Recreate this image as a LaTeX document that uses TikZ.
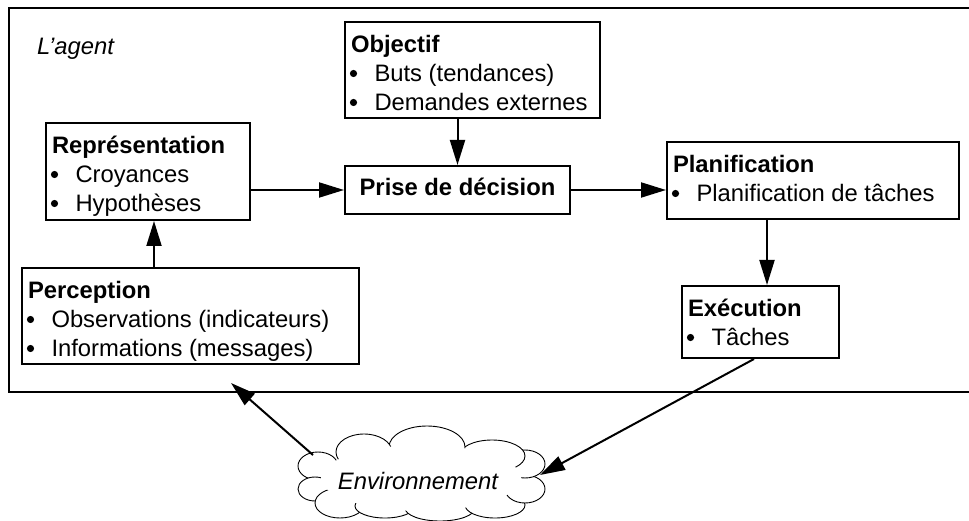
\documentclass[tikz,border=0pt]{standalone}
\usepackage{fontspec}
\setmainfont{Liberation Sans}
\usetikzlibrary{arrows.meta}

% box content: fixed-size top-aligned panel, first baseline 30.5pt below the top
\newcommand{\panel}[3]{\parbox[t][#2][t]{#1}{\raggedright\rule{0pt}{30.5pt}#3}}
\newcommand{\itm}{\\\hspace*{23.5pt}}
% bullet dots for the items of a box
\newcommand{\markrows}[2]{\foreach \k in {1,...,#2}
  \fill ([shift={(9.5,{30.5+29*\k-7})}]#1.north west) circle (3.6pt);}

\tikzset{
  box/.style={draw, line width=2pt, anchor=north west, inner xsep=6pt, inner ysep=0pt,
    font=\fontsize{23.8}{29}\selectfont},
  link/.style={line width=2pt, -{Triangle[length=25pt,width=15pt]}},
  puff/.style={draw, fill=white, line width=0.9pt},
}

\begin{document}
\begin{tikzpicture}[x=1pt,y=-1pt]
  \useasboundingbox (0,0) rectangle (969,521);
  \clip (0,0) rectangle (969,521);

  % the agent frame, open on the right
  \draw[line width=2pt] (9,8) rectangle (990,392);
  \node[anchor=base west, font=\fontsize{23.8}{29}\selectfont\itshape, inner sep=0pt] (agent) at (37,55) {L’agent};

  % modules of the agent
  \node[box] (obj) at (344,21) {\panel{243pt}{96pt}{\textbf{Objectif}\itm Buts (tendances)\itm Demandes externes}};
  \node[box] (rep) at (45,122) {\panel{192pt}{97pt}{\textbf{Représentation}\itm Croyances\itm Hypothèses}};
  \node[box] (per) at (21,267) {\panel{325pt}{96pt}{\textbf{Perception}\itm Observations (indicateurs)\itm Informations (messages)}};
  \node[box] (dec) at (344,165) {\parbox[t][48pt][t]{213pt}{\centering\rule{0pt}{30pt}\textbf{Prise de décision}}};
  \node[box] (pla) at (666,141) {\panel{280pt}{77pt}{\textbf{Planification}\itm Planification de tâches}};
  \node[box] (exe) at (681,285) {\panel{145pt}{72pt}{\textbf{Exécution}\itm Tâches}};

  \markrows{obj}{2}
  \markrows{rep}{2}
  \markrows{per}{2}
  \markrows{pla}{1}
  \markrows{exe}{1}

  % environment cloud: overlapping puffs, interior cleared
  \foreach \cx/\cy/\rx/\ry in {
      318/466/20/14, 315/489/17/12, 340/503/25/15, 385/506/30/12,
      440/508/35/13, 495/505/30/13, 525/489/20/14, 525/464/20/14,
      492/456/33/16, 427/447/38/21, 364/452/28/18}
    \path[puff] (\cx,\cy) ellipse [x radius=\rx pt, y radius=\ry pt];
  \fill[white] (421,478) ellipse [x radius=100pt, y radius=33pt];
  \node[font=\fontsize{23.8}{29}\selectfont\itshape, inner sep=0pt] (env) at (418,481) {Environnement};

  \coordinate (envIn) at (313,455);
  \coordinate (envOut) at (540,475);
  \coordinate (entry) at (231,383);

  % information flow
  \draw[link] (obj.south -| dec.north) -- (dec.north);
  \draw[link] (rep.east |- dec.west) -- (dec.west);
  \draw[link] (dec.east) -- (dec.east -| pla.west);
  \draw[link] ([xshift=6.5pt]exe.north |- pla.south) -- ([xshift=6.5pt]exe.north);
  \draw[link] ([xshift=6pt]rep.south |- per.north) -- ([xshift=6pt]rep.south);
  \draw[link] (envIn) -- (entry);
  \draw[link] ([xshift=-6.5pt]exe.south) -- (envOut);
\end{tikzpicture}
\end{document}
